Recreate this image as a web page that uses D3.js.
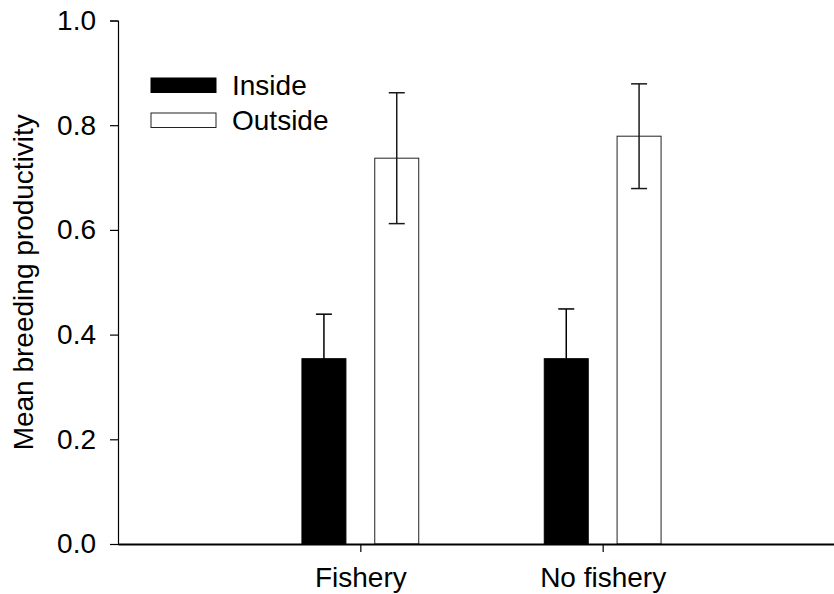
<!DOCTYPE html>
<html>
<head>
<meta charset="utf-8">
<script src="https://cdn.jsdelivr.net/npm/d3@7"></script>
<style>
  html, body { margin: 0; padding: 0; background: #fff; }
  svg { display: block; font-family: "Liberation Sans", Arial, Helvetica, sans-serif; }
</style>
</head>
<body>
<svg id="chart" width="834" height="594"></svg>
<script>
// Mean breeding productivity inside / outside, by fishery status
const categories = ["Fishery", "No fishery"];
const series = ["Inside", "Outside"];
const insideMeans = [0.354, 0.354];
const insideErrors = [0.085, 0.095];
const outsideMeans = [0.737, 0.779];
const outsideErrors = [0.125, 0.100];
const yTicks = [0, 0.2, 0.4, 0.6, 0.8, 1.0];
const yTitle = "Mean breeding productivity";

const rows = [];
categories.forEach((c, i) => {
  rows.push({ cat: c, ser: "Inside", mean: insideMeans[i], err: insideErrors[i] });
  rows.push({ cat: c, ser: "Outside", mean: outsideMeans[i], err: outsideErrors[i] });
});

const svg = d3.select("#chart");
const fontSize = 28;

const y = d3.scaleLinear().domain([0, 1]).range([544, 20.5]);
const x0 = d3.scalePoint().domain(categories).range([118, 845]).padding(1);
const x1 = d3.scaleBand().domain(series).range([-58.4, 58.4]).paddingInner(0.396).paddingOuter(0);

const fills = { Inside: "#000000", Outside: "#ffffff" };
const strokes = { Inside: "#000000", Outside: "#222222" };
const errColors = { Inside: "#000000", Outside: "#1a1a1a" };

// bars
svg.append("g").selectAll("rect").data(rows).join("rect")
  .attr("x", d => x0(d.cat) + x1(d.ser))
  .attr("y", d => y(d.mean))
  .attr("width", x1.bandwidth())
  .attr("height", d => y(0) - y(d.mean))
  .attr("fill", d => fills[d.ser])
  .attr("stroke", d => strokes[d.ser])
  .attr("stroke-width", 1);

// error bars (the lower half of the dark bars sinks into the fill)
const capHalf = 8;
const eb = svg.append("g").attr("stroke-width", 1.5).attr("fill", "none");
rows.forEach(d => {
  const cx = x0(d.cat) + x1(d.ser) + x1.bandwidth() / 2;
  const top = y(d.mean + d.err), bot = y(d.mean - d.err);
  const g = eb.append("g").attr("stroke", errColors[d.ser]);
  g.append("line").attr("x1", cx).attr("x2", cx).attr("y1", top).attr("y2", bot);
  g.append("line").attr("x1", cx - capHalf).attr("x2", cx + capHalf).attr("y1", top).attr("y2", top);
  g.append("line").attr("x1", cx - capHalf).attr("x2", cx + capHalf).attr("y1", bot).attr("y2", bot);
});

// y axis
const yAxis = d3.axisLeft(y).tickValues(yTicks).tickFormat(d3.format(".1f")).tickSize(8).tickPadding(14);
const gy = svg.append("g").attr("transform", "translate(118,0)").call(yAxis);
gy.select(".domain").attr("stroke", "#000").attr("stroke-width", 1.2);
gy.selectAll(".tick line").attr("stroke", "#000").attr("stroke-width", 1.2);
gy.selectAll(".tick text").attr("font-size", fontSize).attr("fill", "#000")
  .attr("font-family", "'Liberation Sans', Arial, sans-serif");

// x axis
const xAxis = d3.axisBottom(x0).tickSize(8).tickPadding(15).tickSizeOuter(0);
const gx = svg.append("g").attr("transform", "translate(0,544)").call(xAxis);
gx.select(".domain").attr("stroke", "#000").attr("stroke-width", 2);
gx.selectAll(".tick line").attr("stroke", "#000").attr("stroke-width", 1.2);
gx.selectAll(".tick text").attr("font-size", fontSize).attr("fill", "#000")
  .attr("font-family", "'Liberation Sans', Arial, sans-serif");

// y title
svg.append("text")
  .attr("transform", `translate(33,${(y(0) + y(1)) / 2}) rotate(-90)`)
  .attr("text-anchor", "middle")
  .attr("font-size", fontSize)
  .attr("fill", "#000")
  .text(yTitle);

// legend
const legend = svg.append("g").attr("transform", "translate(151,78)");
series.forEach((s, i) => {
  const g = legend.append("g").attr("transform", `translate(0,${i * 35})`);
  g.append("rect").attr("x", 0).attr("y", 0).attr("width", 65).attr("height", 14.5)
    .attr("fill", fills[s]).attr("stroke", strokes[s]).attr("stroke-width", 1);
  g.append("text").attr("x", 81).attr("y", 7.3).attr("dy", "0.35em")
    .attr("font-size", fontSize).attr("fill", "#000").text(s);
});
</script>
</body>
</html>
